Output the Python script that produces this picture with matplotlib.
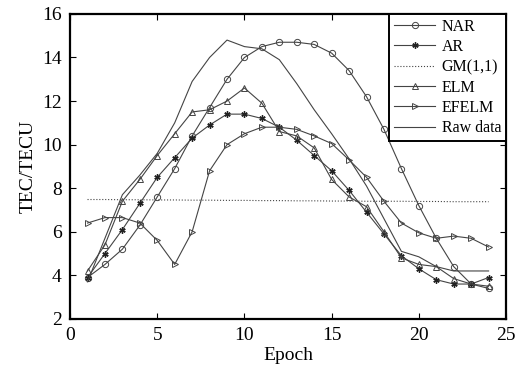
import matplotlib
matplotlib.use('Agg')
import matplotlib.pyplot as plt

plt.rcParams['font.family'] = ['Liberation Serif', 'DejaVu Serif']

epoch = list(range(1, 25))

nar = [3.9, 4.5, 5.2, 6.3, 7.6, 8.9, 10.4, 11.7, 13.0, 14.0, 14.5, 14.7,
       14.7, 14.6, 14.2, 13.4, 12.2, 10.7, 8.9, 7.2, 5.7, 4.4, 3.6, 3.4]
ar = [3.9, 5.0, 6.1, 7.3, 8.5, 9.4, 10.3, 10.9, 11.4, 11.4, 11.2, 10.8,
      10.2, 9.5, 8.8, 7.9, 6.9, 5.9, 4.9, 4.3, 3.8, 3.6, 3.6, 3.9]
gm = [7.48, 7.48, 7.47, 7.47, 7.46, 7.46, 7.45, 7.45, 7.44, 7.44, 7.43, 7.43,
      7.42, 7.42, 7.41, 7.41, 7.40, 7.40, 7.40, 7.39, 7.39, 7.38, 7.38, 7.38]
elm = [4.2, 5.4, 7.4, 8.4, 9.5, 10.5, 11.5, 11.6, 12.0, 12.6, 11.9, 10.6,
       10.4, 9.85, 8.4, 7.6, 7.15, 6.0, 4.8, 4.5, 4.4, 3.85, 3.6, 3.5]
efelm = [6.4, 6.65, 6.65, 6.4, 5.6, 4.5, 6.0, 8.8, 10.0, 10.5, 10.8, 10.8,
         10.7, 10.4, 10.05, 9.3, 8.5, 7.4, 6.4, 5.95, 5.7, 5.8, 5.7, 5.3]
raw = [3.7, 5.7, 7.7, 8.6, 9.6, 11.0, 12.9, 14.0, 14.8, 14.5, 14.4, 13.9,
       12.8, 11.6, 10.5, 9.35, 8.1, 6.6, 5.1, 4.85, 4.4, 4.2, 4.2, 4.2]

fig = plt.figure(figsize=(5.19, 3.87), dpi=100)
ax = fig.add_axes([0.135, 0.176, 0.840, 0.788])

c = '#444444'
mk = dict(markersize=4.5, markerfacecolor='none', markeredgecolor=c, markeredgewidth=0.7)
ax.plot(epoch, nar, color=c, lw=0.8, marker='o', label='NAR', **mk)
ax.plot(epoch, ar, color=c, lw=0.8, marker=(6, 2, 0), label='AR',
        markersize=4.5, markeredgecolor='#222222', markeredgewidth=1.0)
ax.plot(epoch, gm, color=c, lw=0.8, linestyle=':', label='GM(1,1)')
ax.plot(epoch, elm, color=c, lw=0.8, marker='^', label='ELM', **mk)
ax.plot(epoch, efelm, color=c, lw=0.8, marker='>', label='EFELM', **mk)
ax.plot(epoch, raw, color=c, lw=0.8, label='Raw data')

ax.set_xlim(0, 25)
ax.set_ylim(2, 16)
ax.set_xticks([0, 5, 10, 15, 20, 25])
ax.set_yticks([2, 4, 6, 8, 10, 12, 14, 16])
ax.tick_params(direction='in', top=True, right=True, length=4, width=0.8,
               labelsize=14, pad=6)
for s in ax.spines.values():
    s.set_linewidth(1.6)

ax.set_xlabel('Epoch', fontsize=14, labelpad=2)
ax.set_ylabel('TEC/TECU', fontsize=14, labelpad=4)

leg = ax.legend(loc='upper right', fontsize=11.5, fancybox=False, framealpha=1,
                edgecolor='black', borderaxespad=0, handlelength=2.6,
                labelspacing=0.27, borderpad=0.3, handletextpad=0.4)
leg.get_frame().set_linewidth(1.4)

fig.savefig('out.png', dpi=100)
